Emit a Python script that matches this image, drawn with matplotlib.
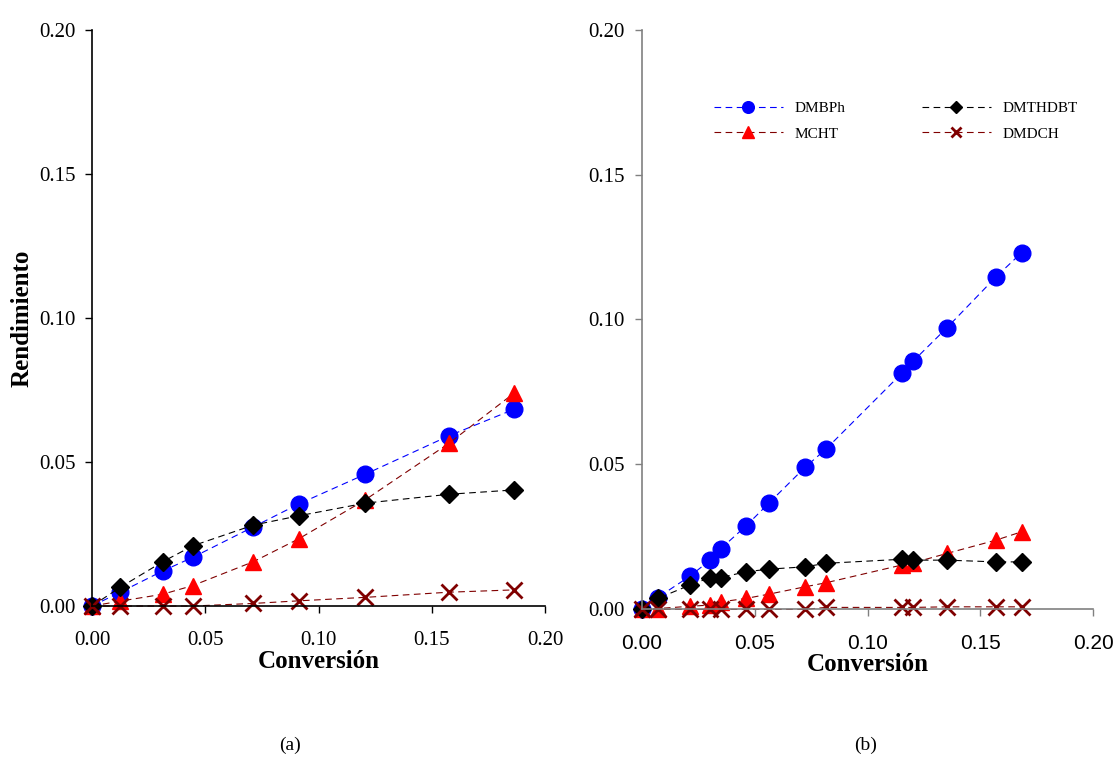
import matplotlib.pyplot as plt

plt.rcParams['font.family'] = ['Liberation Serif', 'DejaVu Serif']

# panel (a)
conv_a = [0.0, 0.0125, 0.0313, 0.0445, 0.0713, 0.0912, 0.1205, 0.1576, 0.1863]
dmbph_a = [0.0, 0.0048, 0.0122, 0.0169, 0.0275, 0.0354, 0.0457, 0.0591, 0.0683]
dmthdbt_a = [0.0, 0.0065, 0.0154, 0.0209, 0.0281, 0.0313, 0.0357, 0.0388, 0.0403]
mcht_a = [0.0, 0.0017, 0.0041, 0.0071, 0.0154, 0.0233, 0.0368, 0.0565, 0.0739]
dmdch_a = [0.0, 0.0, 0.0, 0.0, 0.0009, 0.0018, 0.0030, 0.0048, 0.0056]

# panel (b)
conv_b = [0.0, 0.0071, 0.0214, 0.0303, 0.0351, 0.0462, 0.0565, 0.0723, 0.0816,
          0.1151, 0.1203, 0.1351, 0.1569, 0.1683]
dmbph_b = [0.0, 0.0041, 0.0115, 0.0170, 0.0210, 0.0288, 0.0368, 0.0490, 0.0553,
           0.0814, 0.0857, 0.0971, 0.1147, 0.1231]
dmthdbt_b = [0.0, 0.0038, 0.0084, 0.0110, 0.0110, 0.0130, 0.0139, 0.0147, 0.0159,
             0.0173, 0.0170, 0.0170, 0.0164, 0.0164]
mcht_b = [0.0, 0.0003, 0.0011, 0.0015, 0.0026, 0.0038, 0.0053, 0.0078, 0.0092,
          0.0153, 0.0161, 0.0193, 0.0239, 0.0268]
dmdch_b = [0.0, 0.0, 0.0, 0.0, 0.0, 0.0, 0.0, 0.0, 0.0007,
           0.0007, 0.0007, 0.0009, 0.0009, 0.0009]

ticks = [0.00, 0.05, 0.10, 0.15, 0.20]


def draw_panel(ax, x, dmbph, dmthdbt, mcht, dmdch, spine_color, xtick_font):
    ax.plot(x, dmbph, ls=(0, (6, 4)), lw=0.8, color='#0000ff', marker='o',
            ms=12, mfc='#0000ff', mec='#0000ff', label='DMBPh', clip_on=False)
    ax.plot(x, mcht, ls=(0, (6, 4)), lw=0.8, color='#800000', marker='^',
            ms=12, mfc='#ff0000', mec='#ff0000', label='MCHT', clip_on=False)
    ax.plot(x, dmthdbt, ls=(0, (6, 4)), lw=0.8, color='black', marker='D',
            ms=9, mfc='black', mec='black', label='DMTHDBT', clip_on=False)
    ax.plot(x, dmdch, ls=(0, (6, 4)), lw=0.8, color='#800000', marker='x',
            ms=11, mew=2, mec='#800000', label='DMDCH', clip_on=False)
    ax.set_xlim(0, 0.2)
    ax.set_ylim(0, 0.2)
    ax.set_xticks(ticks)
    ax.set_yticks(ticks)
    ax.set_xticklabels([f"{t:.2f}" for t in ticks], family=xtick_font)
    ax.set_yticklabels([f"{t:.2f}" for t in ticks])
    for s in ['top', 'right']:
        ax.spines[s].set_visible(False)
    for s in ['left', 'bottom']:
        ax.spines[s].set_color(spine_color)
        ax.spines[s].set_linewidth(1.2)
    ax.tick_params(direction='out', length=5, width=1, color=spine_color,
                   labelsize=15)
    ax.tick_params(axis='y', pad=7)
    ax.tick_params(axis='x', pad=13)
    ax.set_xlabel('Conversión', fontsize=18, fontweight='bold', labelpad=0)


fig = plt.figure(figsize=(11.16, 7.58), dpi=100)
ax1 = fig.add_axes([0.0824, 0.2005, 0.406, 0.76])
ax2 = fig.add_axes([0.575, 0.196, 0.4047, 0.765])

draw_panel(ax1, conv_a, dmbph_a, dmthdbt_a, mcht_a, dmdch_a, 'black',
           ['Liberation Serif'])
draw_panel(ax2, conv_b, dmbph_b, dmthdbt_b, mcht_b, dmdch_b, '#808080',
           ['Liberation Sans'])
ax1.set_ylabel('Rendimiento', fontsize=18, fontweight='bold', labelpad=4)

handles, labels = ax2.get_legend_handles_labels()
ax2.legend(handles, labels, ncol=2,
           frameon=False, fontsize=11, markerscale=0.7, handlelength=4.5,
           columnspacing=5, labelspacing=0.75,
           loc='upper left', bbox_to_anchor=(700 / 1116, 1 - 88 / 758),
           bbox_transform=fig.transFigure)

fig.text(290 / 1116, 1 - 745 / 758, '(a)', fontsize=14, ha='center', va='center')
fig.text(866 / 1116, 1 - 745 / 758, '(b)', fontsize=14, ha='center', va='center')

fig.savefig('out.png', dpi=100)
